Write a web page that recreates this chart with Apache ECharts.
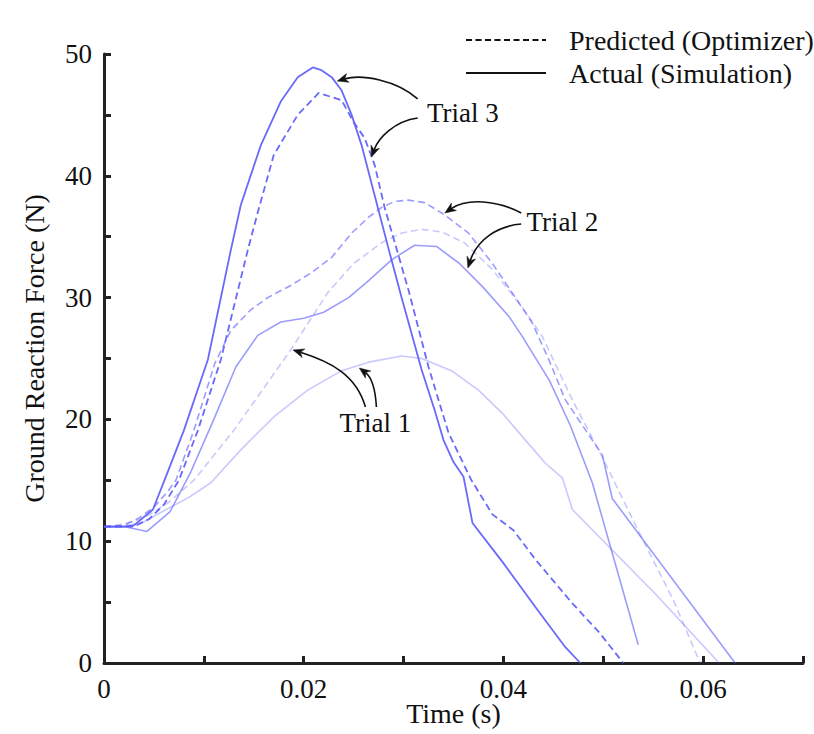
<!DOCTYPE html>
<html>
<head>
<meta charset="utf-8">
<script src="https://cdn.jsdelivr.net/npm/echarts@6/dist/echarts.min.js"></script>
<style>
  html, body { margin: 0; padding: 0; background: #fff; }
  #chart { width: 814px; height: 734px; }
</style>
</head>
<body>
<div id="chart"></div>
<script>
// ---- data: [time (s), ground reaction force (N)] ----
const trial3Actual = [[0,11.2],[0.002,11.2],[0.003,11.3],[0.0049,12.6],[0.0062,15.3],[0.008,19.1],[0.0104,24.9],[0.0127,33.9],[0.0137,37.6],[0.0157,42.5],[0.0177,46.1],[0.0194,48.1],[0.0209,48.9],[0.0217,48.7],[0.0228,48.1],[0.0238,47.0],[0.0248,45.0],[0.0258,42.5],[0.0271,38.4],[0.0285,34.0],[0.0298,30.0],[0.0318,24.1],[0.0331,20.8],[0.034,18.3],[0.035,16.5],[0.036,15.3],[0.0369,11.5],[0.0399,8.3],[0.0432,4.6],[0.0462,1.3],[0.0477,0]];
const trial3Predicted = [[0,11.2],[0.003,11.2],[0.0045,11.8],[0.006,13.0],[0.0075,15.0],[0.0094,19.1],[0.0117,24.9],[0.0144,33.9],[0.0154,37.0],[0.017,41.7],[0.0194,45.0],[0.0215,46.8],[0.0238,46.2],[0.025,44.4],[0.0261,43.1],[0.0271,40.9],[0.0281,37.4],[0.0305,30.6],[0.0325,24.3],[0.0345,18.9],[0.0368,15.0],[0.0389,12.2],[0.041,10.9],[0.0432,8.5],[0.0469,4.9],[0.0496,2.5],[0.052,0]];
const trial2Actual = [[0,11.2],[0.002,11.2],[0.0043,10.8],[0.0066,12.4],[0.0087,15.7],[0.011,20.0],[0.0132,24.3],[0.0154,26.9],[0.0177,28.0],[0.02,28.3],[0.022,28.8],[0.0245,30.0],[0.0265,31.4],[0.0288,33.1],[0.0311,34.3],[0.0333,34.2],[0.0356,32.8],[0.0379,30.9],[0.0406,28.4],[0.0419,26.8],[0.0446,23.2],[0.0467,19.5],[0.0489,14.8],[0.0535,1.5]];
const trial2Predicted = [[0,11.2],[0.002,11.3],[0.0035,11.9],[0.005,12.8],[0.0062,13.9],[0.0072,15.0],[0.009,19.1],[0.0111,24.6],[0.0127,27.3],[0.0147,29.0],[0.0164,30.0],[0.0187,31.0],[0.0207,32.0],[0.0228,33.3],[0.0248,35.3],[0.0265,36.6],[0.0278,37.4],[0.0291,37.9],[0.0305,38.0],[0.0321,37.8],[0.0341,36.8],[0.0365,35.3],[0.0389,32.8],[0.0412,30.0],[0.0429,27.9],[0.0446,24.8],[0.0462,21.6],[0.0489,18.3],[0.0499,17.1]];
const trial2PredictedTail = [[0.0499,17.1],[0.0509,13.5],[0.0632,0]];
const trial1Actual = [[0,11.2],[0.002,11.2],[0.004,11.6],[0.006,12.5],[0.0085,13.6],[0.0107,14.8],[0.0137,17.5],[0.017,20.2],[0.0204,22.4],[0.0238,24.0],[0.0265,24.7],[0.0298,25.2],[0.0318,25.0],[0.0348,24.0],[0.0375,22.4],[0.0399,20.5],[0.0422,18.3],[0.0442,16.4],[0.0459,15.2],[0.0469,12.6],[0.0553,5.6],[0.0616,0]];
const trial1Predicted = [[0,11.2],[0.002,11.4],[0.004,11.9],[0.0065,13.2],[0.009,15.0],[0.013,19.1],[0.0187,25.7],[0.0224,30.4],[0.025,32.8],[0.0278,34.5],[0.0298,35.3],[0.0318,35.6],[0.0338,35.4],[0.0361,34.5],[0.0389,32.3],[0.0419,29.2],[0.0439,26.8],[0.0469,21.6],[0.0499,16.9],[0.0536,10.7],[0.057,5.2],[0.0597,0]];

const xTicks = [0, 0.02, 0.04, 0.06];
const yTicks = [0, 10, 20, 30, 40, 50];
const legendLabels = ['Predicted (Optimizer)', 'Actual (Simulation)'];

// annotation arrows in data coordinates: [start, cp1, cp2, tip]
const trialArrows = {
  'Trial 3': { label: [0.03594, 45.16], arrows: [
    [[0.03141,46.31],[0.02930,47.87],[0.02577,48.36],[0.02336,47.78]],
    [[0.03141,44.75],[0.02909,44.50],[0.02748,43.10],[0.02678,41.54]] ] },
  'Trial 2': { label: [0.04591, 36.21], arrows: [
    [[0.04178,36.95],[0.03936,38.01],[0.03634,38.18],[0.03413,36.95]],
    [[0.04178,36.04],[0.03936,35.88],[0.03735,34.73],[0.03644,32.43]] ] },
  'Trial 1': { label: [0.02718, 19.70], arrows: [
    [[0.02618,21.02],[0.02527,23.65],[0.02275,24.71],[0.01893,25.70]],
    [[0.02728,21.02],[0.02718,22.41],[0.02678,23.48],[0.02557,24.22]] ] }
};

const FONT = "'Liberation Serif', 'DejaVu Serif', 'Times New Roman', serif";
const C3 = 'rgba(90,90,250,0.9)';
const C2 = 'rgba(90,90,250,0.6)';
const C1 = 'rgba(90,90,250,0.33)';
const DASH = [7, 4];

function line(name, data, color, dashed, width) {
  return {
    name, type: 'line', data, showSymbol: false, symbol: 'none', silent: true,
    lineStyle: { color, width: width || 1.6, type: dashed ? DASH : 'solid' },
    animation: false
  };
}

const chart = echarts.init(document.getElementById('chart'), null, { renderer: 'svg' });

const axisCommon = {
  axisLine: { show: true, onZero: false, lineStyle: { color: '#222', width: 3 } },
  axisTick: { show: true, inside: true, length: 7, lineStyle: { color: '#222', width: 3 } },
  splitLine: { show: false },
  nameLocation: 'middle',
  nameMoveOverlap: false
};

const option = {
  backgroundColor: '#fff',
  animation: false,
  textStyle: { fontFamily: FONT },
  grid: { left: 104, right: 11, top: 54, bottom: 71, containLabel: false, outerBoundsMode: 'none' },
  xAxis: Object.assign({}, axisCommon, {
    type: 'value', min: 0, max: 0.07, interval: 0.01,
    name: 'Time (s)', nameGap: 50,
    nameTextStyle: { fontFamily: FONT, fontSize: 28, color: '#111', verticalAlign: 'middle', lineHeight: 30 },
    axisLabel: {
      fontFamily: FONT, fontSize: 27, color: '#111', margin: 12,
      formatter: v => {
        const hit = xTicks.find(t => Math.abs(t - v) < 1e-9);
        return hit === undefined ? '' : (hit === 0 ? '0' : hit.toFixed(2));
      }
    }
  }),
  yAxis: Object.assign({}, axisCommon, {
    type: 'value', min: 0, max: 50, interval: 5,
    name: 'Ground Reaction Force (N)', nameGap: 56,
    nameTextStyle: { fontFamily: FONT, fontSize: 28, color: '#111', padding: [0, 0, 0, 20] },
    axisLabel: {
      fontFamily: FONT, fontSize: 27, color: '#111', margin: 12,
      formatter: v => (yTicks.indexOf(v) >= 0 ? String(v) : '')
    }
  }),
  series: [
    line('Trial 1 Predicted', trial1Predicted, C1, true),
    line('Trial 1 Actual', trial1Actual, C1, false),
    line('Trial 2 Predicted', trial2Predicted, C2, true),
    line('Trial 2 Predicted tail', trial2PredictedTail, C2, false),
    line('Trial 2 Actual', trial2Actual, C2, false),
    line('Trial 3 Predicted', trial3Predicted, C3, true, 1.8),
    line('Trial 3 Actual', trial3Actual, C3, false, 1.8)
  ]
};
chart.setOption(option);

// ---- annotations & legend (graphic) ----
function px(p) { return chart.convertToPixel({ gridIndex: 0 }, p); }
const graphics = [];

Object.keys(trialArrows).forEach(key => {
  const spec = trialArrows[key];
  const lp = px(spec.label);
  graphics.push({
    type: 'text', x: lp[0], y: lp[1], silent: true, z: 100,
    style: { text: key, fontFamily: FONT, fontSize: 27, fill: '#111', align: 'center', verticalAlign: 'middle' }
  });
  spec.arrows.forEach(a => {
    const [s, c1, c2, t] = a.map(px);
    let dx = t[0] - c2[0], dy = t[1] - c2[1];
    const len = Math.hypot(dx, dy) || 1; dx /= len; dy /= len;
    const nx = -dy, ny = dx;
    const L = 11, W = 4.5;
    const back = [t[0] - dx * L, t[1] - dy * L];
    const notch = [t[0] - dx * L * 0.7, t[1] - dy * L * 0.7];
    graphics.push({
      type: 'bezierCurve', silent: true, z: 100,
      shape: { x1: s[0], y1: s[1], cpx1: c1[0], cpy1: c1[1], cpx2: c2[0], cpy2: c2[1], x2: notch[0], y2: notch[1] },
      style: { stroke: '#111', lineWidth: 1.6, fill: null }
    });
    graphics.push({
      type: 'polygon', silent: true, z: 101,
      shape: { points: [t, [back[0] + nx * W, back[1] + ny * W], notch, [back[0] - nx * W, back[1] - ny * W]] },
      style: { fill: '#111', stroke: '#111', lineWidth: 0.5 }
    });
  });
});

// legend
const legendX0 = 466, legendX1 = 546, legendTextX = 569;
const legendRows = [40, 73];
legendLabels.forEach((lab, i) => {
  graphics.push({
    type: 'line', silent: true, z: 100,
    shape: { x1: legendX0, y1: legendRows[i], x2: legendX1, y2: legendRows[i] },
    style: { stroke: '#111', lineWidth: 2, lineDash: i === 0 ? [6, 3.5] : null }
  });
  graphics.push({
    type: 'text', x: legendTextX, y: legendRows[i], silent: true, z: 100,
    style: { text: lab, fontFamily: FONT, fontSize: 28, fill: '#111', align: 'left', verticalAlign: 'middle' }
  });
});

chart.setOption({ graphic: graphics });
</script>
</body>
</html>
